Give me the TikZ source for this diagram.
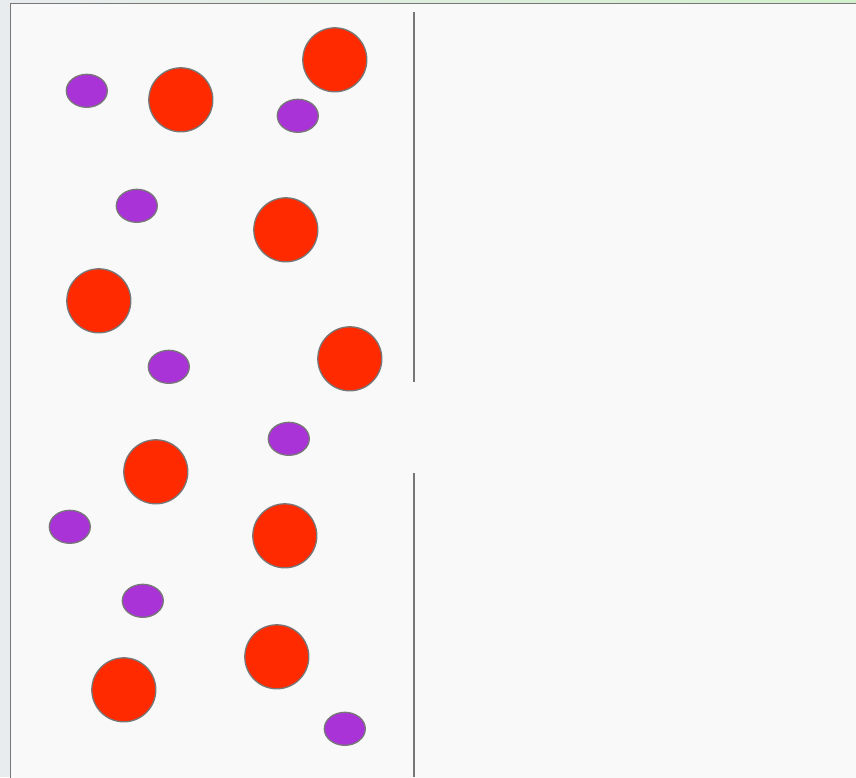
\documentclass[tikz,border=0pt]{standalone}
\usetikzlibrary{shapes.geometric}
\begin{document}
\begin{tikzpicture}[x=1pt,y=-1pt,
  bigball/.style={circle,draw=framegray,line width=1.3pt,fill=ballred,minimum size=64pt,inner sep=0pt},
  smallball/.style={ellipse,draw=framegray,line width=1.3pt,fill=ballpurple,minimum width=41pt,minimum height=33pt,inner sep=0pt},
  wall/.style={draw=framegray,line width=1.8pt}]
\definecolor{framegray}{HTML}{777777}
\definecolor{ballred}{HTML}{FF2A00}
\definecolor{ballpurple}{HTML}{A933D6}
\definecolor{outerbg}{HTML}{E9ECEF}
\definecolor{innerbg}{HTML}{F9F9F9}
\definecolor{topgreen}{HTML}{D2F0CC}
\useasboundingbox (0,0) rectangle (856,777);
\fill[outerbg] (0,0) rectangle (856,777);
\shade[left color=outerbg,right color=topgreen] (0,0) rectangle (856,3);
\filldraw[draw=framegray,fill=innerbg,line width=1.6pt] (10.5,3.5) rectangle (870,790);
% partition wall with gap
\coordinate (w1) at (414,12);
\coordinate (w2) at (414,382);
\coordinate (w3) at (414,473);
\coordinate (w4) at (414,777);
\draw[wall] (w1) -- (w2);
\draw[wall] (w3) -- (w4);
\begin{scope}[xshift=0.8pt,yshift=-0.8pt]
% large particles
\node[bigball] (r1) at (334,59) {};
\node[bigball] (r2) at (180,99) {};
\node[bigball] (r3) at (285,229) {};
\node[bigball] (r4) at (98,300) {};
\node[bigball] (r5) at (349,358) {};
\node[bigball] (r6) at (155,471) {};
\node[bigball] (r7) at (284,535) {};
\node[bigball] (r8) at (276,656) {};
\node[bigball] (r9) at (123,689) {};
% small particles
\node[smallball] (p1) at (86,90) {};
\node[smallball] (p2) at (297,115) {};
\node[smallball] (p3) at (136,205) {};
\node[smallball] (p4) at (168,366) {};
\node[smallball] (p5) at (288,438) {};
\node[smallball] (p6) at (69,526) {};
\node[smallball] (p7) at (142,600) {};
\node[smallball] (p8) at (344,728) {};
\end{scope}
\end{tikzpicture}
\end{document}
